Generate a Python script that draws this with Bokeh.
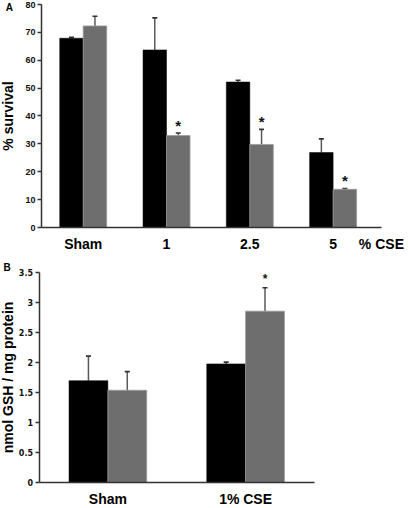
from bokeh.plotting import figure
from bokeh.models import ColumnDataSource, Range1d, FixedTicker, NumeralTickFormatter, Label
from bokeh.core.properties import value
from bokeh.embed import file_html
from bokeh.resources import INLINE

# ---- Panel A data ----
groups_a = ["Sham", "1", "2.5", "5"]
black_a = [67.9, 63.7, 52.2, 26.9]
black_err_a = [0.3, 11.5, 0.6, 4.9]
gray_a = [72.3, 33.0, 29.8, 13.7]
gray_err_a = [3.5, 0.9, 5.4, 0.3]
sig_a = ["", "*", "*", "*"]
ticks_a = [0, 10, 20, 30, 40, 50, 60, 70, 80]
unit_a = "% CSE"

# ---- Panel B data ----
groups_b = ["Sham", "1% CSE"]
black_b = [1.70, 1.98]
black_err_b = [0.41, 0.03]
gray_b = [1.54, 2.86]
gray_err_b = [0.31, 0.39]
sig_b = ["", "*"]
ticks_b = [0, 0.5, 1, 1.5, 2, 2.5, 3, 3.5]

BLACK = "#000000"
GRAY = "#6e6e6e"
AXIS = "#333333"
ARIAL = "Liberation Sans"

W = 0.282
D = 0.141


def panel(groups, black, berr, gray, gerr, sig, ticks, ylabel,
          x_range, y_range, height,
          tick_font, tick_size, label_standoff, ylab_standoff,
          ast_size, ast_off, letter, letter_xy, extra_tick=None, x_end=None):
    xc = [i + 0.5 for i in range(len(groups))]
    src = ColumnDataSource(dict(
        xb=[x - D for x in xc], xg=[x + D for x in xc],
        black=black, gray=gray,
        btop=[v + e for v, e in zip(black, berr)],
        gtop=[v + e for v, e in zip(gray, gerr)],
        sig=sig,
    ))
    p = figure(x_range=Range1d(*x_range), y_range=Range1d(*y_range),
               width=408, height=height, output_backend="svg",
               toolbar_location=None,
               min_border_left=0, min_border_right=0,
               min_border_top=0, min_border_bottom=0)
    p.outline_line_color = None
    p.grid.visible = False

    # error bars (upper only)
    p.segment(x0="xb", y0="black", x1="xb", y1="btop", source=src,
              line_color="#5a5a5a", line_width=1.5)
    p.segment(x0="xg", y0="gray", x1="xg", y1="gtop", source=src,
              line_color="#5a5a5a", line_width=1.5)
    p.scatter(x="xb", y="btop", source=src, marker="dash", size=5,
              line_color="#333333", line_width=1.6)
    p.scatter(x="xg", y="gtop", source=src, marker="dash", size=5,
              line_color="#333333", line_width=1.6)

    p.vbar(x="xb", top="black", bottom=0, width=W, source=src,
           fill_color=BLACK, line_color=BLACK, line_width=0.5)
    p.vbar(x="xg", top="gray", bottom=0, width=W, source=src,
           fill_color=GRAY, line_color="#9a9a9a", line_width=0.8)

    p.text(x="xg", y="gtop", text="sig", source=src,
           text_align="center", text_baseline="alphabetic",
           text_font=value(ARIAL), text_font_style="bold",
           text_font_size=ast_size, y_offset=ast_off, text_color="#111111")

    ya = p.yaxis[0]
    ya.fixed_location = 0
    ya.bounds = (ticks[0], ticks[-1])
    ya.ticker = FixedTicker(ticks=ticks)
    ya.formatter = NumeralTickFormatter(format="0.[0]")
    ya.minor_tick_line_color = None
    ya.major_tick_out = 4
    ya.major_tick_in = 0
    ya.major_tick_line_color = AXIS
    ya.major_tick_line_width = 1.5
    ya.axis_line_color = AXIS
    ya.axis_line_width = 1.5
    ya.major_label_text_font = tick_font
    ya.major_label_text_font_style = "bold"
    ya.major_label_text_font_size = tick_size
    ya.major_label_text_color = "#111111"
    ya.major_label_standoff = 2
    ya.axis_label = ylabel
    ya.axis_label_standoff = ylab_standoff
    ya.axis_label_text_font = ARIAL
    ya.axis_label_text_font_style = "bold"
    ya.axis_label_text_font_size = "14px"
    ya.axis_label_text_color = "#000000"

    xa = p.xaxis[0]
    xa.fixed_location = 0
    xticks = list(xc)
    overrides = dict(zip(xc, groups))
    end = len(groups)
    if extra_tick is not None:
        end = x_end
        xticks.append(x_end)
        overrides[x_end] = extra_tick
    xa.ticker = FixedTicker(ticks=xticks)
    xa.major_label_overrides = overrides
    xa.bounds = (0, end)
    xa.major_tick_line_color = None
    xa.minor_tick_line_color = None
    xa.major_tick_out = 0
    xa.major_tick_in = 0
    xa.axis_line_color = AXIS
    xa.axis_line_width = 1.5
    xa.major_label_standoff = label_standoff
    xa.major_label_text_font = ARIAL
    xa.major_label_text_font_style = "bold"
    xa.major_label_text_font_size = "14px"
    xa.major_label_text_color = "#000000"

    p.add_layout(Label(x=letter_xy[0], y=letter_xy[1], text=letter,
                       text_align="left", text_baseline="top",
                       text_font=ARIAL, text_font_style="bold",
                       text_font_size="10px", text_color="#000000"))
    return p


# Panel A: frame 408 x 255 px; x unit 83.3 px, y unit 2.7875 px
pa = panel(groups_a, black_a, black_err_a, gray_a, gray_err_a, sig_a, ticks_a,
           "% survival", (-0.493, 4.405), (-10.04, 81.43), 255,
           ARIAL, "9px", 8, 6, "15px", -8, "A", (-0.43, 80.75),
           extra_tick=unit_a, x_end=4.08)

# Panel B: frame 408 x 252 px; x unit 137.7 px, y unit 59.91 px
pb = panel(groups_b, black_b, black_err_b, gray_b, gray_err_b, sig_b, ticks_b,
           "nmol GSH / mg protein", (-0.2796, 2.683), (-0.417, 3.789), 252,
           "DejaVu Sans", "8px", 8, 0, "12px", -9, "B", (-0.258, 3.68))

open("out.html", "w").write(file_html([pa, pb], INLINE))
